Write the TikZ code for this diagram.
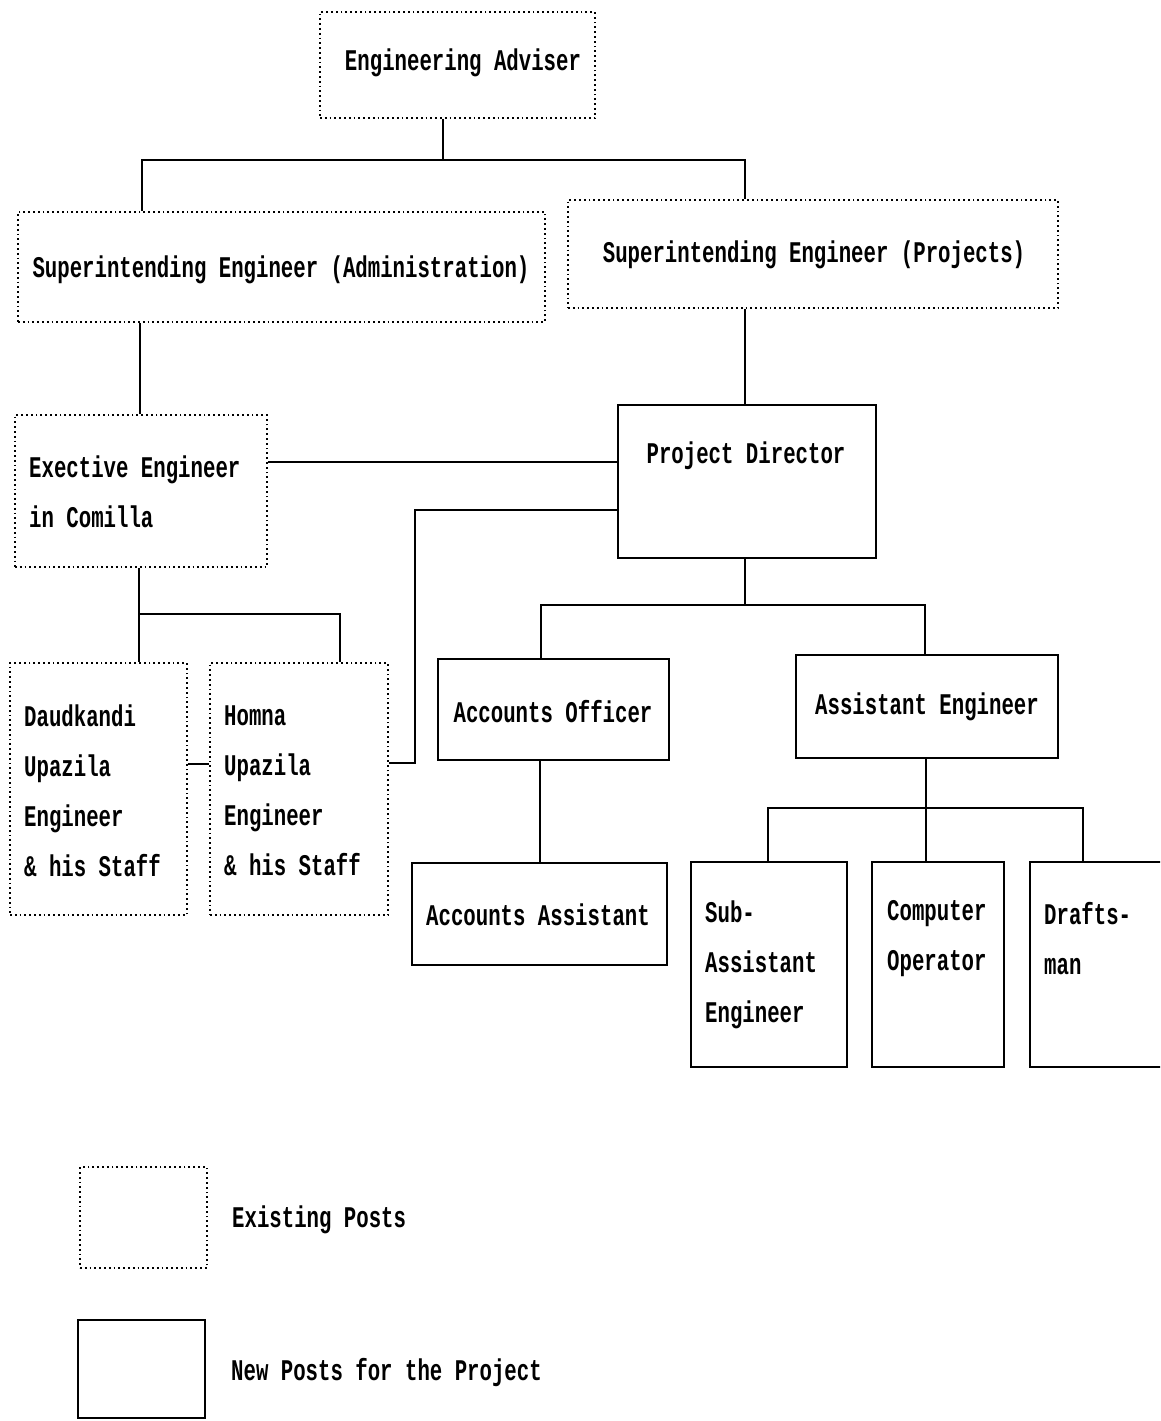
\documentclass[tikz,border=0pt]{standalone}
\usepackage{fontspec}
\newfontfamily\orgfont[FakeStretch=0.69]{Liberation Mono}
\begin{document}
\begin{tikzpicture}[x=1pt,y=-1pt,
  exist/.style={draw, line width=1.6pt, dash pattern=on 1.8pt off 3pt, rectangle, inner sep=0pt},
  newpost/.style={draw, line width=1.7pt, rectangle, inner sep=0pt},
  lbl/.style={font=\orgfont\bfseries\fontsize{30}{50}\selectfont, inner sep=0pt, align=left},
  conn/.style={line width=1.7pt}]
\clip (0,0) rectangle (1160,1421);
% boxes
\node[exist, minimum width=275pt, minimum height=106pt] (ea) at (457.5,65) {};
\node[exist, minimum width=527pt, minimum height=110pt] (sea) at (281.5,267) {};
\node[exist, minimum width=490pt, minimum height=108pt] (sep) at (813,254) {};
\node[exist, minimum width=252pt, minimum height=152pt] (ee) at (141,491) {};
\node[newpost, minimum width=258pt, minimum height=153pt] (pd) at (747,481.5) {};
\node[exist, minimum width=177pt, minimum height=252pt] (daud) at (98.5,789) {};
\node[exist, minimum width=178pt, minimum height=252pt] (homna) at (299,789) {};
\node[newpost, minimum width=231pt, minimum height=101pt] (ao) at (553.5,709.5) {};
\node[newpost, minimum width=262pt, minimum height=103pt] (asse) at (927,706.5) {};
\node[newpost, minimum width=255pt, minimum height=102pt] (aa) at (539.5,914) {};
\node[newpost, minimum width=156pt, minimum height=205pt] (sae) at (769,964.5) {};
\node[newpost, minimum width=132pt, minimum height=205pt] (co) at (938,964.5) {};
\node[newpost, minimum width=145pt, minimum height=205pt] (dr) at (1102.5,964.5) {};
\node[exist, minimum width=127pt, minimum height=101pt] (leg1) at (143.5,1217.5) {};
\node[newpost, minimum width=127pt, minimum height=98pt] (leg2) at (141.5,1369) {};
% labels
\node[lbl] (tea) at (463,63) {Engineering Adviser};
\node[lbl] (tsea) at (281,270) {Superintending Engineer (Administration)};
\node[lbl] (tsep) at (814,255) {Superintending Engineer (Projects)};
\node[lbl, anchor=west] (tee) at (29,492) {Exective Engineer\\in Comilla};
\node[lbl] (tpd) at (746,456) {Project Director};
\node[lbl, anchor=west] (tdaud) at (24,791) {Daudkandi\\Upazila\\Engineer\\\& his Staff};
\node[lbl, anchor=west] (thomna) at (224,791) {Homna\\Upazila\\Engineer\\\& his Staff};
\node[lbl] (tao) at (553,712) {Accounts Officer};
\node[lbl] (tasse) at (927,707) {Assistant Engineer};
\node[lbl] (taa) at (538,915) {Accounts Assistant};
\node[lbl, anchor=west] (tsae) at (705,965) {Sub-\\Assistant\\Engineer};
\node[lbl, anchor=west] (tco) at (887,938.5) {Computer\\Operator};
\node[lbl, anchor=west] (tdr) at (1044,938.5) {Drafts-\\man};
\node[lbl, anchor=west] (tleg1) at (232,1220) {Existing Posts};
\node[lbl, anchor=west] (tleg2) at (231,1373) {New Posts for the Project};
% junction coordinates
\coordinate (j1) at (443,160);
\coordinate (jL) at (142,160);
\coordinate (jR) at (745,160);
\coordinate (x140) at (140,0);
\coordinate (y462) at (0,462);
\coordinate (pl) at (415,510);
\coordinate (hm) at (415,763);
\coordinate (eb) at (139,614);
\coordinate (hx) at (340,614);
\coordinate (dh) at (0,764);
\coordinate (pb) at (745,605);
\coordinate (pbl) at (541,605);
\coordinate (pbr) at (925,605);
\coordinate (x540) at (540,0);
\coordinate (ab) at (926,808);
\coordinate (abl) at (768,808);
\coordinate (abr) at (1083,808);
% connectors
\draw[conn] (ea.south -| j1) -- (j1);
\draw[conn] (sea.north -| jL) -- (jL) -- (jR) -- (sep.north -| jR);
\draw[conn] (sea.south -| x140) -- (ee.north -| x140);
\draw[conn] (sep.south -| jR) -- (pd.north -| jR);
\draw[conn] (ee.east |- y462) -- (pd.west |- y462);
\draw[conn] (pd.west |- pl) -- (pl) -- (hm) -- (homna.east |- hm);
\draw[conn] (ee.south -| eb) -- (daud.north -| eb);
\draw[conn] (eb) -- (hx) -- (homna.north -| hx);
\draw[conn] (daud.east |- dh) -- (homna.west |- dh);
\draw[conn] (pd.south -| pb) -- (pb);
\draw[conn] (ao.north -| pbl) -- (pbl) -- (pbr) -- (asse.north -| pbr);
\draw[conn] (ao.south -| x540) -- (aa.north -| x540);
\draw[conn] (asse.south -| ab) -- (co.north -| ab);
\draw[conn] (sae.north -| abl) -- (abl) -- (abr) -- (dr.north -| abr);
\end{tikzpicture}
\end{document}
